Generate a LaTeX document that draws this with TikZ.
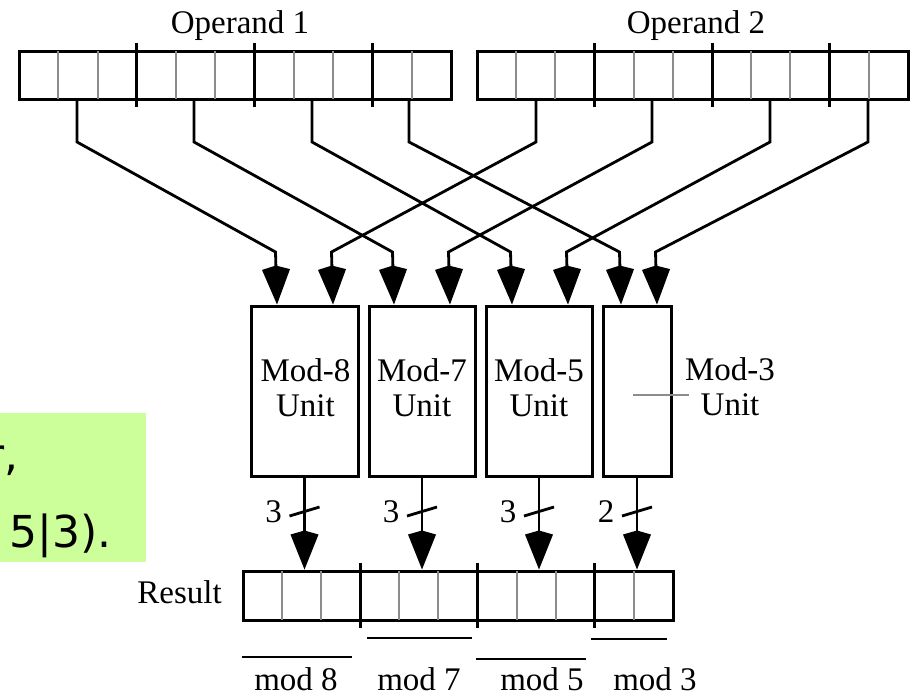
\documentclass[tikz,border=0pt]{standalone}
\usepackage{fontspec}
\setmainfont{Liberation Serif}
\newfontfamily\greenfont{DejaVu Sans}
\usetikzlibrary{arrows.meta,calc}
\definecolor{divgray}{RGB}{140,140,140}
\definecolor{notegreen}{RGB}{204,255,153}
\tikzset{
  reg/.style={draw, line width=3pt, inner sep=0pt, outer sep=0pt},
  unitbox/.style={draw, line width=3pt, inner sep=0pt, align=center, font=\fontsize{33}{35}\selectfont},
  wire/.style={line width=2.8pt, line join=miter},
  arr/.style={wire, -{Kite[width=28pt,length=39pt,inset=4pt]}},
  lbl/.style={font=\fontsize{33}{35}\selectfont, inner sep=0pt},
  celldiv/.style={divgray, line width=2pt},
  fielddiv/.style={line width=3pt},
  leader/.style={divgray, line width=2pt},
  note/.style={font=\greenfont\fontsize{44}{50}\selectfont, inner sep=0pt}
}
\newcommand{\regdividers}[2]{%
  \foreach \i in {1,2,4,5,7,8,10}
    \draw[celldiv] ($(#1.north west)+(\i*#2,0)$) -- ($(#1.south west)+(\i*#2,0)$);
  \foreach \i in {3,6,9}
    \draw[fielddiv] ($(#1.north west)+(\i*#2,-8)$) -- ($(#1.south west)+(\i*#2,8)$);
}
\begin{document}
\begin{tikzpicture}[x=1pt,y=-1pt]
\useasboundingbox (0,0) rectangle (912,697);

% green note (cut off at the left edge)
\fill[notegreen] (0,413) rectangle (146,562);
\begin{scope}
  \clip (0,413) rectangle (146,562);
  \node[note, anchor=base east] (n1) at (19,470) {r,};
  \node[note, anchor=base east] (n2) at (112,547) {5|3).};
\end{scope}

% operand registers
\node[reg, minimum width=432pt, minimum height=48pt] (op1) at (235,75) {};
\node[reg, minimum width=431pt, minimum height=48pt] (op2) at (692.5,75) {};
\regdividers{op1}{39.27}
\regdividers{op2}{39.18}
\node[lbl, anchor=base] (lop1) at (240,33) {Operand 1};
\node[lbl, anchor=base] (lop2) at (696,33) {Operand 2};

% units
\node[unitbox, minimum width=107pt, minimum height=170pt] (u8) at (304.5,391) {};
\node[unitbox, minimum width=106pt, minimum height=170pt] (u7) at (422,391) {};
\node[unitbox, minimum width=106pt, minimum height=170pt] (u5) at (539,391) {};
\node[unitbox, minimum width=68pt, minimum height=170pt] (u3) at (637,391) {};
\node[lbl, align=center] (m8) at ($(u8.center)+(1,-3)$) {Mod-8\\Unit};
\node[lbl, align=center] (m7) at ($(u7.center)+(0,-3)$) {Mod-7\\Unit};
\node[lbl, align=center] (m5) at ($(u5.center)+(0,-3)$) {Mod-5\\Unit};
\node[lbl, align=center] (m3) at (730,387) {Mod-3\\Unit};
\draw[leader] ($(u3.center)+(-4,4)$) -- ($(u3.center)+(52,4)$);

% wire start points
\coordinate (a1) at ($(op1.south west)+(58,0)$);
\coordinate (a2) at ($(op1.south west)+(175,0)$);
\coordinate (a3) at ($(op1.south west)+(293,0)$);
\coordinate (a4) at ($(op1.south west)+(390,0)$);
\coordinate (b1) at ($(op2.south west)+(59,0)$);
\coordinate (b2) at ($(op2.south west)+(175,0)$);
\coordinate (b3) at ($(op2.south west)+(293,0)$);
\coordinate (b4) at ($(op2.south west)+(391,0)$);

% arrow tips on unit tops
\coordinate (t8a) at ($(u8.north)+(-27.5,0)$);
\coordinate (t8b) at ($(u8.north)+(28.5,0)$);
\coordinate (t7a) at ($(u7.north)+(-28,0)$);
\coordinate (t7b) at ($(u7.north)+(28,0)$);
\coordinate (t5a) at ($(u5.north)+(-27,0)$);
\coordinate (t5b) at ($(u5.north)+(29,0)$);
\coordinate (t3a) at ($(u3.north)+(-16,0)$);
\coordinate (t3b) at ($(u3.north)+(20,0)$);

\foreach \s/\t in {a1/t8a, b1/t8b, a2/t7a, b2/t7b, a3/t5a, b3/t5b, a4/t3a, b4/t3b}
  \draw[arr] (\s) -- ++(0,43) -- ($(\t)+(-1.5,-52.5)$) -- (\t);

% result register
\node[reg, minimum width=430pt, minimum height=49pt] (res) at (458,595.5) {};
\regdividers{res}{39.09}
\node[lbl, anchor=base east] (rl) at ($(res.west)+(-21,8)$) {Result};

% outputs with bus-width marks
\foreach \u/\w in {u8/3, u7/3, u5/3, u3/2} {
  \draw[arr] (\u.south) -- ($(\u.south |- res.north)+(0,-1.5)$);
  \coordinate (k\u) at ($(\u.south)+(0,34)$);
  \draw[wire] ($(k\u)+(-15,4.5)$) -- ($(k\u)+(15,-4.5)$);
  \node[lbl, anchor=base] at ($(k\u)+(-31,10.5)$) {\w};
}

% field brackets and labels
\draw[wire] (242,657) -- (352,657);
\draw[wire] (367,638) -- (472,638);
\draw[wire] (476,659) -- (586,659);
\draw[wire] (591,639) -- (667,639);
\node[lbl, anchor=base] (f8) at (296,690) {mod 8};
\node[lbl, anchor=base] (f7) at (419,690) {mod 7};
\node[lbl, anchor=base] (f5) at (542,690) {mod 5};
\node[lbl, anchor=base] (f3) at (655,690) {mod 3};
\end{tikzpicture}
\end{document}
